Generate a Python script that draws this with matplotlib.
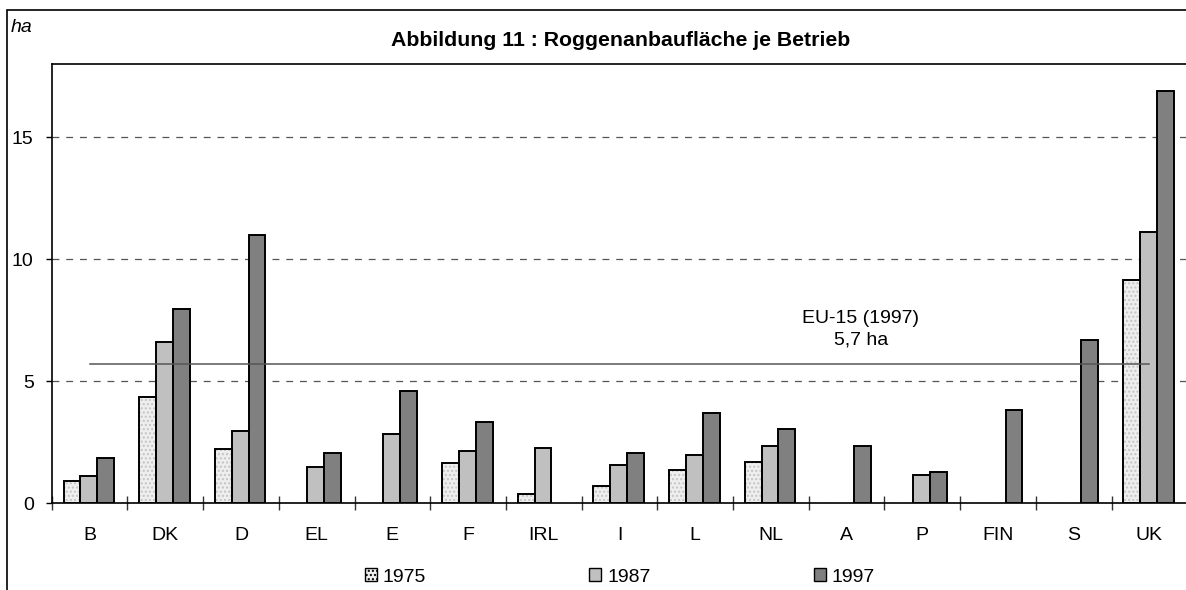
import numpy as np
import matplotlib
matplotlib.use("Agg")
from matplotlib import pyplot as plt
from matplotlib.patches import Rectangle, Patch

plt.rcParams['font.family'] = ['Liberation Sans', 'DejaVu Sans']

# data (ha per holding)
countries = ['B', 'DK', 'D', 'EL', 'E', 'F', 'IRL', 'I', 'L', 'NL', 'A', 'P', 'FIN', 'S', 'UK']
v1975 = [0.91, 4.36, 2.2, np.nan, np.nan, 1.63, 0.36, 0.71, 1.34, 1.69, np.nan, np.nan, np.nan, np.nan, 9.15]
v1987 = [1.12, 6.6, 2.96, 1.49, 2.83, 2.12, 2.25, 1.54, 1.98, 2.34, np.nan, 1.13, np.nan, np.nan, 11.12]
v1997 = [1.83, 7.95, 10.99, 2.04, 4.59, 3.33, np.nan, 2.04, 3.68, 3.03, 2.33, 1.27, 3.81, 6.69, 16.89]
years = ['1975', '1987', '1997']
eu_avg = 5.7

fig = plt.figure(figsize=(11.86, 5.90), dpi=100)
ax = fig.add_axes([51.7 / 1186, 87 / 590, 1135.5 / 1186, 439 / 590])

x = np.arange(len(countries))
w = 0.222
colors = ['#eeeeee', '#c0c0c0', '#808080']
for i, (vals, c) in enumerate(zip([v1975, v1987, v1997], colors)):
    pos = x + (i - 1) * w - 0.01
    if i == 0:
        # dotted fill first, then the black outline on top
        ax.bar(pos, vals, w, color=c, hatch='....', edgecolor='#c4c4c4', lw=0, zorder=3)
        ax.bar(pos, vals, w, facecolor='none', edgecolor='black', lw=1.4, zorder=4)
    else:
        ax.bar(pos, vals, w, color=c, edgecolor='black', lw=1.4, zorder=3)

# EU-15 average line across the categories
ax.plot([x[0], x[-1]], [eu_avg, eu_avg], color='#555555', lw=1.1, zorder=5)
ax.text(10.19, 7.12, 'EU-15 (1997)\n5,7 ha', ha='center', va='center',
        fontsize=14, linespacing=1.3)

ax.set_xlim(-0.5, len(countries) - 0.5)
ax.set_ylim(0, 18)
ax.set_yticks([0, 5, 10, 15])
ax.yaxis.grid(True, color='#555555', lw=0.9, linestyle=(0, (5.5, 5.5)), zorder=0)
ax.set_axisbelow(True)

ax.set_xticks(np.arange(-0.5, len(countries) - 0.5, 1))
ax.set_xticklabels([])
ax.set_xticks(x, minor=True)
ax.set_xticklabels(countries, minor=True)
ax.tick_params(axis='x', which='major', direction='inout', length=10, width=1, color='#333333')
ax.tick_params(axis='x', which='minor', length=0, pad=17.5, labelsize=14)
ax.tick_params(axis='y', direction='out', length=4.5, width=1, pad=8.5, labelsize=14)

ax.spines['right'].set_visible(False)
for s in ['left', 'top', 'bottom']:
    ax.spines[s].set_linewidth(1.2)

fig.text(621 / 1186, 1 - 40 / 590, 'Abbildung 11 : Roggenanbaufläche je Betrieb',
         ha='center', va='center', fontsize=15.3, fontweight='bold')
fig.text(11 / 1186, 1 - 27 / 590, 'ha', ha='left', va='center', fontsize=14, style='italic')

# outer frame, cut off at the right and bottom like the reference
fig.patches.append(Rectangle((7 / 1186, -0.1), 1.2, 1 - 10 / 590 + 0.1, transform=fig.transFigure,
                             fill=False, edgecolor='black', lw=1.2))

handles = [Patch(facecolor=c, edgecolor='black', lw=1.0, hatch='....' if i == 0 else None)
           for i, c in enumerate(colors)]
fig.legend(handles, years, loc='center', bbox_to_anchor=(620 / 1186, 1 - 577 / 590), ncol=3,
           frameon=False, fontsize=14, handlelength=0.62, handleheight=0.62,
           handletextpad=0.3, columnspacing=8.4, borderpad=0)

fig.savefig('out.png', dpi=100)
